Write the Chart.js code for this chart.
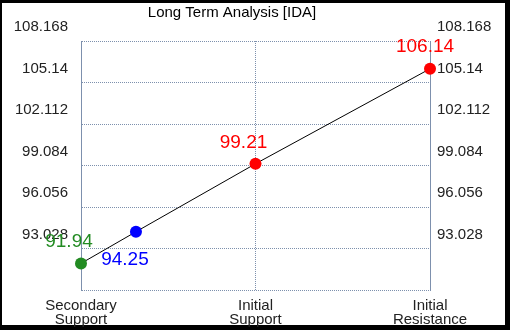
<!DOCTYPE html>
<html>
<head>
<meta charset="utf-8">
<script src="https://cdn.jsdelivr.net/npm/chart.js@4/dist/chart.umd.min.js"></script>
<style>
  html, body { margin: 0; padding: 0; background: #000; }
  #wrap { width: 510px; height: 330px; position: relative; }
</style>
</head>
<body>
<div id="wrap"><canvas id="chart" width="510" height="330"></canvas></div>
<script>
// Chart data
const chartTitle = 'Long Term Analysis [IDA]'
const categoryLabels = [['Secondary', 'Support'], ['Initial', 'Support'], ['Initial', 'Resistance']]
const categoryPositions = [0, 1, 2]
const pointPositions = [0, 0.315, 1, 2]
const pointValues = [91.94, 94.25, 99.21, 106.14]
const pointLabels = ['91.94', '94.25', '99.21', '106.14']
const pointColors = ['#228b22', '#0000ff', '#ff0000', '#ff0000']
const yTickValues = [90, 93.028, 96.056, 99.084, 102.112, 105.14, 108.168]
const yTickLabels = ['', '93.028', '96.056', '99.084', '102.112', '105.14', '108.168']

const FONT = '"Liberation Sans", Arial, sans-serif'
const AXIS_COLOR = '#7d90ad'

// label offsets from the point (px)
const labelOffsets = [[-12, -22], [-11, 28], [-12, -21], [-5, -22]]

const framePlugin = {
  id: 'frame',
  beforeDraw(chart) {
    const ctx = chart.ctx
    ctx.save()
    ctx.fillStyle = '#000'
    ctx.fillRect(0, 0, chart.width, chart.height)
    ctx.fillStyle = '#fff'
    ctx.fillRect(2, 3, 503, 322)
    ctx.fillStyle = '#000'
    ctx.font = '15px ' + FONT
    ctx.textAlign = 'center'
    ctx.textBaseline = 'alphabetic'
    ctx.fillText(chartTitle, 232, 17)
    ctx.restore()
  }
}

const valueLabelPlugin = {
  id: 'valueLabels',
  afterDatasetsDraw(chart) {
    const ctx = chart.ctx
    const meta = chart.getDatasetMeta(0)
    ctx.save()
    ctx.font = '19px ' + FONT
    ctx.textAlign = 'center'
    ctx.textBaseline = 'middle'
    meta.data.forEach((pt, i) => {
      ctx.fillStyle = pointColors[i]
      ctx.fillText(pointLabels[i], pt.x + labelOffsets[i][0], pt.y + labelOffsets[i][1])
    })
    ctx.restore()
  }
}

function yAxis(position, width) {
  return {
    type: 'linear',
    position: position,
    min: yTickValues[0],
    max: yTickValues[yTickValues.length - 1],
    afterBuildTicks(scale) {
      scale.ticks = yTickValues.map(v => ({ value: v }))
    },
    afterFit(scale) {
      scale.width = width
    },
    grid: {
      display: position === 'left',
      color: AXIS_COLOR,
      lineWidth: 1,
      drawTicks: false
    },
    border: { display: true, color: AXIS_COLOR, width: 1, dash: [1, 1] },
    ticks: {
      color: '#222',
      font: { family: FONT, size: 15 },
      padding: position === 'left' ? 13 : 7,
      labelOffset: -14,
      callback: (v, i) => yTickLabels[i]
    }
  }
}

new Chart(document.getElementById('chart'), {
  type: 'line',
  data: {
    datasets: [{
      data: pointPositions.map((x, i) => ({ x: x, y: pointValues[i] })),
      borderColor: '#000',
      borderWidth: 1,
      pointRadius: 6,
      pointHoverRadius: 6,
      pointBackgroundColor: pointColors,
      pointBorderColor: pointColors,
      pointBorderWidth: 0,
      tension: 0,
      clip: false
    }]
  },
  options: {
    responsive: false,
    animation: false,
    events: [],
    layout: { padding: { top: 41, left: 0, right: 0, bottom: 0 } },
    plugins: {
      legend: { display: false },
      title: { display: false },
      tooltip: { enabled: false }
    },
    scales: {
      x: {
        type: 'linear',
        min: categoryPositions[0],
        max: categoryPositions[categoryPositions.length - 1],
        afterBuildTicks(scale) {
          scale.ticks = categoryPositions.map(v => ({ value: v }))
        },
        afterFit(scale) {
          scale.height = 40
        },
        grid: {
          color: AXIS_COLOR,
          drawTicks: false
        },
        border: { display: false, color: AXIS_COLOR, dash: [1, 1] },
        ticks: {
          color: '#222',
          font: { family: FONT, size: 15, lineHeight: '14px' },
          padding: 9,
          maxRotation: 0,
          autoSkip: false,
          callback: (v, i) => categoryLabels[i]
        }
      },
      y: yAxis('left', 81),
      y2: yAxis('right', 80)
    }
  },
  plugins: [framePlugin, valueLabelPlugin]
})
</script>
</body>
</html>
